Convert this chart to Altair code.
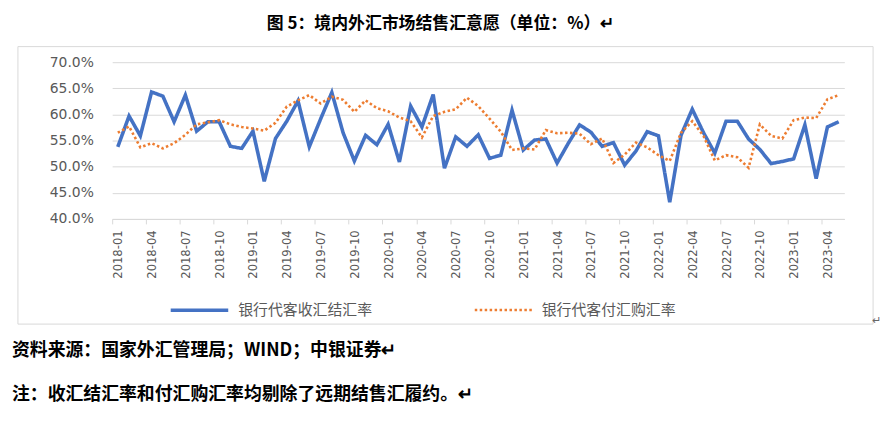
import altair as alt
import pandas as pd

# ---- data -------------------------------------------------------------
months = [f"{y}-{m:02d}" for y in range(2018, 2024) for m in range(1, 13)][:65]
tick_labels = months[::3]
y_ticks = [40, 45, 50, 55, 60, 65, 70]
series_names = ["银行代客收汇结汇率", "银行代客付汇购汇率"]

settle_rate = [
    53.8, 59.7, 55.9, 64.3, 63.5, 58.6, 63.7, 56.8, 58.6, 58.6, 53.9, 53.5,
    56.8, 47.2, 55.4, 58.7, 62.6, 53.8, 59.1, 64.2, 56.5, 51.1, 56.0, 54.2,
    58.1, 50.9, 61.6, 57.6, 63.8, 49.7, 55.7, 53.9, 56.1, 51.6, 52.2, 60.8,
    53.2, 55.1, 55.3, 50.7, 54.5, 58.0, 56.6, 53.9, 54.6, 50.3, 53.0, 56.7,
    55.9, 43.2, 56.0, 61.0, 56.5, 52.6, 58.7, 58.7, 55.3, 53.3, 50.6, 51.0,
    51.5, 58.0, 47.7, 57.6, 58.6,
]
purchase_rate = [
    56.5, 57.7, 53.7, 54.5, 53.5, 54.5, 56.1, 58.1, 58.5, 58.9, 58.1, 57.6,
    57.3, 56.9, 58.4, 61.5, 62.7, 63.7, 62.1, 63.4, 62.8, 60.5, 62.7, 61.2,
    60.6, 59.4, 58.7, 55.6, 59.7, 60.5, 61.0, 63.2, 61.6, 59.2, 56.7, 53.2,
    53.5, 53.3, 57.0, 56.4, 56.5, 56.3, 54.3, 55.4, 50.7, 52.3, 54.6, 53.7,
    52.2, 51.1, 56.5, 58.7, 55.9, 51.2, 52.2, 51.8, 49.8, 58.1, 55.9, 55.4,
    58.9, 59.4, 59.3, 62.9, 63.7,
]

title_text = "图 5：境内外汇市场结售汇意愿（单位：%）↵"
source_text = "资料来源：国家外汇管理局；WIND；中银证券↵"
note_text = "注：收汇结汇率和付汇购汇率均剔除了远期结售汇履约。↵"

df = pd.concat([
    pd.DataFrame({"month": months, "value": settle_rate, "series": series_names[0]}),
    pd.DataFrame({"month": months, "value": purchase_rate, "series": series_names[1]}),
])

# ---- layout -----------------------------------------------------------
W, H = 738, 158
step = W / len(months)
GRID = "#D9D9D9"
LABEL = "#595959"

legend = alt.Legend(
    title=None, orient="none", direction="horizontal",
    legendX=57, legendY=219, padding=0,
    symbolType="stroke", symbolSize=3364, symbolStrokeWidth=2.5,
    labelFont="Noto Sans CJK SC", labelFontSize=15, labelColor=LABEL,
    labelOffset=8, columnPadding=97,
)

lines = alt.Chart(df).mark_line(strokeCap="butt").encode(
    x=alt.X(
        "month:O", sort=months, title=None,
        scale=alt.Scale(type="point", padding=0.5),
        axis=alt.Axis(
            values=tick_labels, labelAngle=270, tickOffset=-step / 2,
            labelOffset=step / 2, tickSize=5, tickColor=GRID, domainColor=GRID,
            labelColor=LABEL, labelFont="DejaVu Sans Condensed", labelFontSize=13,
            labelPadding=6, grid=False,
        ),
    ),
    y=alt.Y(
        "value:Q", title=None,
        scale=alt.Scale(domain=[40, 70], nice=False, zero=False),
        axis=alt.Axis(
            values=y_ticks, labelExpr="format(datum.value, '.1f') + '%'",
            domain=False, ticks=False, labelPadding=19, gridColor=GRID,
            labelColor=LABEL, labelFont="DejaVu Sans", labelFontSize=14,
        ),
    ),
    color=alt.Color("series:N", scale=alt.Scale(domain=series_names, range=["#4472C4", "#ED7D31"]),
                    legend=legend),
    strokeDash=alt.StrokeDash("series:N", scale=alt.Scale(domain=series_names, range=[[1, 0], [2.5, 2.5]]),
                              legend=legend),
    strokeWidth=alt.StrokeWidth("series:N", scale=alt.Scale(domain=series_names, range=[3.6, 2.6]),
                                legend=None),
)

one = pd.DataFrame({"a": [0]})

border = alt.Chart(one).mark_rect(filled=False, stroke=GRID, strokeWidth=1).encode(
    x=alt.value(-95), x2=alt.value(767), y=alt.value(-15.7), y2=alt.value(264)
)

def text_layer(txt, x, y, size, align="left", weight="bold", color="black"):
    return alt.Chart(one).mark_text(
        align=align, baseline="middle", font="Noto Sans CJK SC",
        fontSize=size, fontWeight=weight, color=color,
    ).encode(x=alt.value(x), y=alt.value(y), text=alt.value(txt))

title = text_layer(title_text, 331, -38, 17, align="center")
source = text_layer(source_text, -101, 291, 18)
note = text_layer(note_text, -101, 336, 18)
para = text_layer("↵", 766, 261, 11, weight="normal", color="#666666")

chart = alt.layer(border, lines, title, source, note, para).properties(
    width=W, height=H,
    autosize=alt.AutoSizeParams(type="none"),
    padding={"left": 105, "top": 53, "right": 40, "bottom": 195},
).configure_view(stroke=None)

chart.save("out.html", embed_options={"renderer": "svg", "actions": False})
